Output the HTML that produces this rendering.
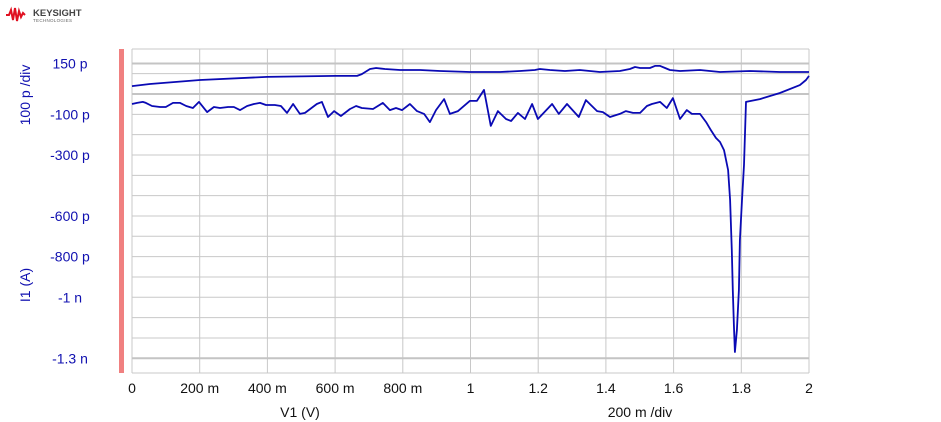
<!DOCTYPE html>
<html><head><meta charset="utf-8"><style>
body{margin:0;background:#fff;width:941px;height:422px;overflow:hidden;font-family:"Liberation Sans",sans-serif}
svg{display:block}
</style></head><body>
<svg id="chart" width="941" height="422">
<g>
<polyline points="6,15 9,15 11,10 13,20 15,8 17,21 19,11 21,17 23,13 25,15" fill="none" stroke="#e01020" stroke-width="2"/>
<text x="33" y="16" font-size="9.5" font-weight="bold" fill="#444">KEYSIGHT</text>
<text x="33" y="22" font-size="4.5" fill="#666" letter-spacing="0.3">TECHNOLOGIES</text>
</g>
<rect x="119" y="49" width="5" height="324" fill="#f08080"/>
<g id="grid"></g>
<g id="series"></g>
<g id="labels"></g>
<text x="30" y="95" transform="rotate(-90 30 95)" text-anchor="middle" font-size="14" fill="#1010b0">100 p /div</text>
<text x="30" y="285" transform="rotate(-90 30 285)" text-anchor="middle" font-size="14" fill="#1010b0">I1 (A)</text>
<text x="300" y="417" text-anchor="middle" font-size="14" fill="#111">V1 (V)</text>
<text x="640" y="417" text-anchor="middle" font-size="14" fill="#111">200 m /div</text>
</svg>
<script>
const xTicks=[0,0.2,0.4,0.6,0.8,1,1.2,1.4,1.6,1.8,2];
const xTickLabels=["0","200 m","400 m","600 m","800 m","1","1.2","1.4","1.6","1.8","2"];
const yGrid=[100,-100,-200,-300,-400,-500,-600,-700,-800,-900,-1000,-1100,-1200];
const yThick=[150,0,-1300];
const yTicks=[150,-100,-300,-600,-800,-1000,-1300];
const yTickLabels=["150 p","-100 p","-300 p","-600 p","-800 p","-1 n","-1.3 n"];
const upperV=[0,0.053,0.201,0.399,0.600,0.665,0.679,0.703,0.721,0.747,0.792,0.851,0.910,0.998,1.087,1.146,1.190,1.205,1.235,1.279,1.323,1.382,1.441,1.471,1.486,1.501,1.530,1.545,1.560,1.575,1.589,1.619,1.678,1.737,1.826,1.914,2.0];
const upperI=[39,49,69,84,89,89,98,123,128,123,118,118,113,108,108,113,118,123,118,113,118,108,113,123,133,128,128,138,138,128,118,113,118,108,113,108,108];
const lowerV=[0,0.015,0.032,0.041,0.059,0.083,0.100,0.121,0.142,0.160,0.180,0.198,0.222,0.242,0.260,0.284,0.301,0.319,0.340,0.360,0.378,0.396,0.422,0.440,0.458,0.476,0.496,0.511,0.546,0.561,0.579,0.597,0.617,0.644,0.662,0.679,0.712,0.741,0.762,0.780,0.798,0.821,0.842,0.863,0.880,0.898,0.922,0.939,0.963,0.998,1.019,1.040,1.060,1.081,1.105,1.120,1.140,1.161,1.182,1.199,1.241,1.261,1.285,1.320,1.341,1.374,1.391,1.412,1.441,1.459,1.480,1.501,1.521,1.536,1.560,1.580,1.598,1.619,1.639,1.654,1.678,1.696,1.710,1.725,1.737,1.749,1.761,1.767,1.772,1.775,1.778,1.781,1.787,1.793,1.796,1.802,1.808,1.814,1.855,1.914,1.973,1.991,2.0];
const lowerI=[-49,-44,-39,-44,-59,-64,-64,-44,-44,-59,-69,-39,-89,-64,-69,-64,-64,-79,-59,-49,-44,-54,-54,-59,-93,-49,-98,-93,-49,-39,-113,-84,-108,-74,-59,-69,-74,-44,-79,-69,-79,-49,-84,-98,-138,-79,-25,-98,-84,-34,-34,20,-157,-84,-123,-133,-93,-123,-49,-123,-49,-98,-49,-113,-30,-84,-89,-113,-98,-84,-93,-93,-59,-49,-39,-69,-20,-123,-79,-98,-98,-138,-177,-216,-236,-276,-374,-522,-768,-964,-1137,-1269,-1161,-964,-718,-522,-349,-39,-25,5,44,69,89];

const X0=132,X1=809,Y0=49,Y1=373;
const xs=v=>X0+(v-0)/(2-0)*(X1-X0);
const ys=v=>94-v*0.2033;
const NS='http://www.w3.org/2000/svg';
function mk(tag,attrs,parent){const e=document.createElementNS(NS,tag);for(const k in attrs)e.setAttribute(k,attrs[k]);parent.appendChild(e);return e;}
const grid=document.getElementById('grid'),series=document.getElementById('series'),labels=document.getElementById('labels');
xTicks.forEach((t,i)=>{
 const l=mk('line',{x1:xs(t),x2:xs(t),y1:Y0,y2:Y1,stroke:'#c8c8c8','stroke-width':1},grid);
 
 
 const tx=mk('text',{x:xs(t),y:393,'text-anchor':'middle','font-size':14,fill:'#111'},labels);
 tx.textContent=xTickLabels[i];
 
 
});
mk('line',{x1:X0,x2:X1,y1:Y0,y2:Y0,stroke:'#c8c8c8','stroke-width':1},grid);
mk('line',{x1:X0,x2:X1,y1:Y1,y2:Y1,stroke:'#c8c8c8','stroke-width':1},grid);
yGrid.forEach(v=>{
 const l=mk('line',{x1:X0,x2:X1,y1:ys(v),y2:ys(v),stroke:'#c8c8c8','stroke-width':1},grid);
 
 
});
yThick.forEach(v=>{
 const l=mk('line',{x1:X0,x2:X1,y1:ys(v),y2:ys(v),stroke:'#c4c4c4','stroke-width':2},grid);
 
 
});
yTicks.forEach((v,i)=>{
 const tx=mk('text',{x:70,y:ys(v)+5,'text-anchor':'middle','font-size':14,fill:'#1010b0'},labels);
 tx.textContent=yTickLabels[i];
 
 
});
function line(V,I,name){
 const p=mk('polyline',{points:V.map((v,i)=>xs(v).toFixed(1)+','+ys(I[i]).toFixed(1)).join(' '),fill:'none',stroke:'#0a0ab4','stroke-width':1.8,'stroke-linejoin':'round'},series);
 
 
}
line(upperV,upperI,'upper-sweep-line');
line(lowerV,lowerI,'lower-sweep-line');
</script>
</body></html>
